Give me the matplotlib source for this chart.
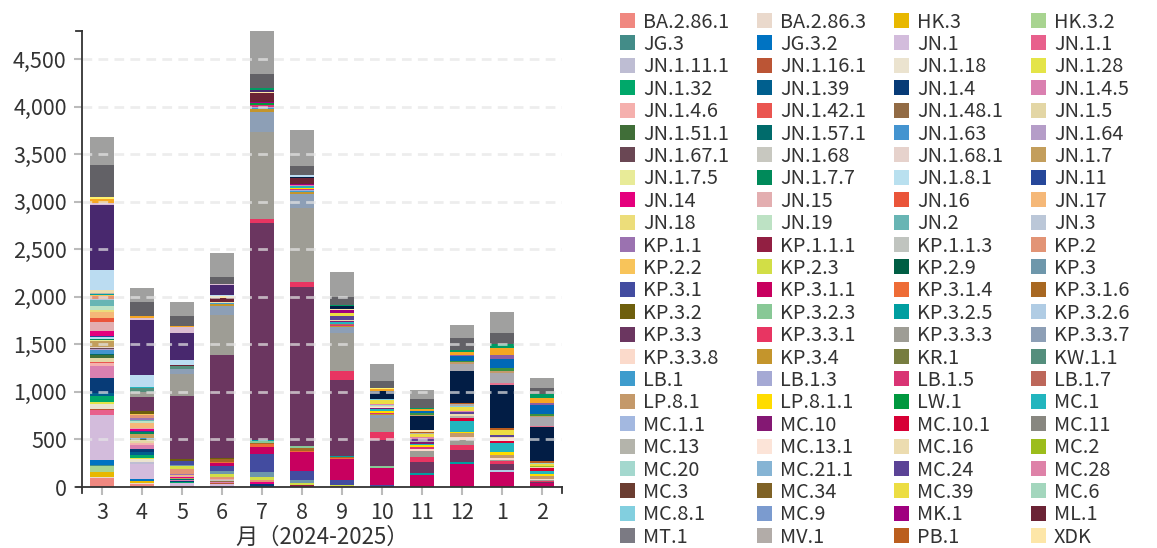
import matplotlib
matplotlib.use('Agg')
import matplotlib.pyplot as plt
from matplotlib.patches import Rectangle
from matplotlib.lines import Line2D
import numpy as np

plt.rcParams['font.family'] = ['Noto Sans CJK JP', 'DejaVu Sans']
plt.rcParams['lines.scale_dashes'] = False

# x axis: month of 2024-2025
months = ['3', '4', '5', '6', '7', '8', '9', '10', '11', '12', '1', '2']

# lineages in legend / stacking order (bottom -> top)
lineages = [
    'BA.2.86.1', 'BA.2.86.3', 'HK.3', 'HK.3.2',
    'JG.3', 'JG.3.2', 'JN.1', 'JN.1.1',
    'JN.1.11.1', 'JN.1.16.1', 'JN.1.18', 'JN.1.28',
    'JN.1.32', 'JN.1.39', 'JN.1.4', 'JN.1.4.5',
    'JN.1.4.6', 'JN.1.42.1', 'JN.1.48.1', 'JN.1.5',
    'JN.1.51.1', 'JN.1.57.1', 'JN.1.63', 'JN.1.64',
    'JN.1.67.1', 'JN.1.68', 'JN.1.68.1', 'JN.1.7',
    'JN.1.7.5', 'JN.1.7.7', 'JN.1.8.1', 'JN.11',
    'JN.14', 'JN.15', 'JN.16', 'JN.17',
    'JN.18', 'JN.19', 'JN.2', 'JN.3',
    'KP.1.1', 'KP.1.1.1', 'KP.1.1.3', 'KP.2',
    'KP.2.2', 'KP.2.3', 'KP.2.9', 'KP.3',
    'KP.3.1', 'KP.3.1.1', 'KP.3.1.4', 'KP.3.1.6',
    'KP.3.2', 'KP.3.2.3', 'KP.3.2.5', 'KP.3.2.6',
    'KP.3.3', 'KP.3.3.1', 'KP.3.3.3', 'KP.3.3.7',
    'KP.3.3.8', 'KP.3.4', 'KR.1', 'KW.1.1',
    'LB.1', 'LB.1.3', 'LB.1.5', 'LB.1.7',
    'LP.8.1', 'LP.8.1.1', 'LW.1', 'MC.1',
    'MC.1.1', 'MC.10', 'MC.10.1', 'MC.11',
    'MC.13', 'MC.13.1', 'MC.16', 'MC.2',
    'MC.20', 'MC.21.1', 'MC.24', 'MC.28',
    'MC.3', 'MC.34', 'MC.39', 'MC.6',
    'MC.8.1', 'MC.9', 'MK.1', 'ML.1',
    'MT.1', 'MV.1', 'PB.1', 'XDK',
]
lineage_colors = [
    '#f08880', '#ead9cc', '#e8b800', '#a8d490',
    '#438c88', '#0073c2', '#d3bcdc', '#e8608c',
    '#bebdd3', '#bb5535', '#ebe3cf', '#e4e448',
    '#00a86a', '#005f8e', '#073b77', '#da80b0',
    '#f5b0ad', '#ea5550', '#926b45', '#e3d6a5',
    '#406e38', '#006b6b', '#4494d0', '#b59dc8',
    '#6a4754', '#c8c8c0', '#e6d2cc', '#c39e5c',
    '#e8eb98', '#008a5a', '#b9e0ef', '#26479a',
    '#e5007d', '#e3aeb0', '#ea553a', '#f5b878',
    '#ecdd7a', '#bde2c4', '#68b5b4', '#bbc7d8',
    '#9b72b0', '#921f42', '#c0c4bf', '#e29476',
    '#f8c45a', '#d2de46', '#005e44', '#6e97ab',
    '#434ca0', '#c8005f', '#ee6c36', '#a86822',
    '#6e5f0d', '#88c896', '#009ea0', '#b0cce4',
    '#6b3660', '#e83562', '#9e9d95', '#8d9fb6',
    '#fbdacb', '#c4952c', '#777d40', '#548e7c',
    '#3e9ccd', '#a5a9d4', '#d93474', '#bd675a',
    '#c4996a', '#ffdc00', '#00983f', '#22b5be',
    '#a3b8e0', '#841873', '#d70035', '#888780',
    '#b4b4ab', '#fce4d8', '#ecdcb0', '#9cbd1c',
    '#a4d8ce', '#86b4d4', '#5b4396', '#de82a8',
    '#6b3d31', '#7f6226', '#ecdd43', '#a3d6bd',
    '#82cfdf', '#7b9bcf', '#a0007f', '#6b2335',
    '#7b7a83', '#b2aca8', '#bb5e1e', '#fde6a8',
]

# groups stacked above XDK that have no legend entry
unlisted = ['_navy', '_rose', '_gray', '_tan', '_green', '_blue', '_purple',
            '_lightblue', '_indigo', '_pink', '_orange', '_yellow', '_green2',
            '_darkgray', '_lightgray']
unlisted_colors = ['#021d45', '#e5738f', '#a9a8ae', '#c49a6c', '#3d9140', '#0068b7',
                   '#8e5ea2', '#bbdcf1', '#48286e', '#dbbdd2', '#f5a623', '#fff26e',
                   '#009b63', '#626166', '#a0a09f']

# counts per month (only non-zero groups)
mar_2024 = {
    'BA.2.86.1': 90, 'BA.2.86.3': 18, 'HK.3': 53, 'HK.3.2': 63, 'JG.3': 5, 'JG.3.2': 60,
    'JN.1': 463, 'JN.1.1': 53, 'JN.1.11.1': 5, 'JN.1.16.1': 5, 'JN.1.18': 56, 'JN.1.28': 21,
    'JN.1.32': 63, 'JN.1.39': 35, 'JN.1.4': 155, 'JN.1.4.5': 126, 'JN.1.4.6': 35, 'JN.1.42.1': 8,
    'JN.1.48.1': 5, 'JN.1.5': 42, 'JN.1.51.1': 28, 'JN.1.57.1': 14, 'JN.1.63': 35, 'JN.1.64': 10,
    'JN.1.67.1': 10, 'JN.1.68': 5, 'JN.1.68.1': 10, 'JN.1.7': 67, 'JN.1.7.5': 10, 'JN.1.7.7': 5,
    'JN.1.8.1': 18, 'JN.11': 18, 'JN.14': 49, 'JN.15': 98, 'JN.16': 42, 'JN.17': 63, 'JN.18': 21,
    'JN.19': 42, 'JN.2': 56, 'JN.3': 10, 'KP.1.1': 5, 'KP.1.1.3': 5, 'KP.2': 25, 'KP.2.2': 15,
    'KP.3.2.5': 8, 'MC.13': 8, 'MC.16': 30,
    '_lightblue': 218, '_indigo': 675, '_pink': 28, '_orange': 35, '_yellow': 28,
    '_darkgray': 330, '_lightgray': 295,
}
apr_2024 = {
    'BA.2.86.1': 35, 'BA.2.86.3': 5, 'HK.3': 18, 'HK.3.2': 5, 'JG.3.2': 18, 'JN.1': 165,
    'JN.1.11.1': 21, 'JN.1.18': 25, 'JN.1.28': 18, 'JN.1.32': 28, 'JN.1.39': 25, 'JN.1.4': 35,
    'JN.1.4.5': 42, 'JN.1.4.6': 18, 'JN.1.42.1': 5, 'JN.1.5': 28, 'JN.1.51.1': 10, 'JN.1.57.1': 8,
    'JN.1.63': 5, 'JN.1.64': 5, 'JN.1.7': 35, 'JN.1.7.7': 25, 'JN.11': 10, 'JN.14': 25,
    'JN.15': 10, 'JN.17': 46, 'JN.19': 21, 'JN.2': 10, 'KP.1.1': 25, 'KP.2': 35, 'KP.2.2': 10,
    'KP.3.2': 28, 'KP.3.3': 144, 'KP.3.3.3': 60, 'KW.1.1': 35, 'MC.1': 10,
    '_lightblue': 126, '_indigo': 580, '_pink': 18, '_orange': 25,
    '_darkgray': 148, '_lightgray': 148,
}
may_2024 = {
    'BA.2.86.1': 8, 'JN.1': 35, 'JN.1.32': 8, 'JN.1.4': 8, 'JN.1.4.5': 10, 'JN.1.5': 8,
    'JN.1.57.1': 8, 'JN.1.7': 8, 'JN.14': 10, 'JN.15': 8, 'JN.17': 10, 'JN.2': 8, 'KP.1.1': 10,
    'KP.2': 53, 'KP.2.3': 28, 'KP.3': 8, 'KP.3.1': 46, 'KP.3.2': 18, 'KP.3.3': 670,
    'KP.3.3.3': 230, 'KP.3.3.7': 53, 'KW.1.1': 25, 'ML.1': 10,
    '_lightblue': 53, '_indigo': 285, '_pink': 60, '_orange': 14,
    '_darkgray': 105, '_lightgray': 148,
}
jun_2024 = {
    'JN.1': 28, 'JN.1.16.1': 10, 'JN.1.4.5': 10, 'JN.1.48.1': 15, 'JN.1.68': 15, 'JN.15': 10,
    'KP.2': 18, 'KP.2.3': 35, 'KP.3': 28, 'KP.3.1': 56, 'KP.3.1.1': 28, 'KP.3.1.4': 10,
    'KP.3.1.6': 28, 'KP.3.2': 10, 'KP.3.2.5': 5, 'KP.3.3': 1085, 'KP.3.3.3': 421,
    'KP.3.3.7': 91, 'KP.3.4': 21, 'LB.1': 10, 'MC.16': 10, 'ML.1': 46, 'XDK': 14,
    '_lightblue': 18, '_indigo': 105, '_pink': 10, '_darkgray': 74, '_lightgray': 253,
}
jul_2024 = {
    'JN.1.4': 28, 'JN.14': 25, 'KP.2': 18, 'KP.2.3': 35, 'KP.3': 53, 'KP.3.1': 190,
    'KP.3.1.1': 74, 'KP.3.1.4': 25, 'KP.3.1.6': 18, 'KP.3.2.3': 14, 'KP.3.2.5': 18,
    'KP.3.3': 2274, 'KP.3.3.1': 42, 'KP.3.3.3': 924, 'KP.3.3.7': 207, 'KP.3.4': 25,
    'LB.1': 14, 'LB.1.3': 14, 'LB.1.5': 14, 'LW.1': 21, 'MK.1': 14, 'ML.1': 95, 'XDK': 14,
    '_indigo': 21, '_green2': 21, '_darkgray': 142, '_lightgray': 455,
}
aug_2024 = {
    'KP.1.1.1': 18, 'KP.2.3': 25, 'KP.3': 28, 'KP.3.1': 95, 'KP.3.1.1': 200, 'KP.3.1.4': 10,
    'KP.3.1.6': 32, 'KP.3.2.3': 28, 'KP.3.3': 1666, 'KP.3.3.1': 49, 'KP.3.3.3': 788,
    'KP.3.3.7': 141, 'KP.3.4': 21, 'LB.1': 14, 'LB.1.3': 10, 'LB.1.5': 10, 'LP.8.1.1': 14,
    'MC.1': 14, 'MC.28': 10, 'MK.1': 10, 'ML.1': 70,
    '_navy': 10, '_lightblue': 18, '_darkgray': 91, '_lightgray': 380,
}
sep_2024 = {
    'KP.2': 8, 'KP.2.3': 10, 'KP.3.1': 53, 'KP.3.1.1': 221, 'KP.3.1.4': 14, 'KP.3.1.6': 10,
    'KP.3.2.5': 10, 'KP.3.3': 801, 'KP.3.3.1': 95, 'KP.3.3.3': 393, 'KP.3.3.7': 63,
    'KP.3.4': 10, 'LB.1': 10, 'LB.1.5': 10, 'LB.1.7': 10, 'MC.1': 14, 'MC.1.1': 8,
    'MC.10': 8, 'MC.16': 10, 'MC.24': 35, 'MC.39': 35, 'MK.1': 28, 'ML.1': 10, 'XDK': 5,
    '_navy': 28, '_green2': 18, '_darkgray': 84, '_lightgray': 263,
}
oct_2024 = {
    'KP.3.1': 18, 'KP.3.1.1': 186, 'KP.3.2.3': 18, 'KP.3.3': 270, 'KP.3.3.1': 84,
    'KP.3.3.3': 151, 'KP.3.3.7': 28, 'KP.3.4': 14, 'LB.1.5': 12, 'LP.8.1.1': 15, 'MC.1': 21,
    'MC.10': 10, 'MC.13.1': 10, 'MC.16': 15, 'MC.20': 10, 'MC.28': 15, 'MC.39': 35,
    'MC.8.1': 12, '_navy': 85, '_orange': 20, '_yellow': 15, '_darkgray': 74, '_lightgray': 175,
}
nov_2024 = {
    'KP.3.1.1': 123, 'KP.3.2.5': 25, 'KP.3.3': 116, 'KP.3.3.1': 49, 'KP.3.3.3': 63,
    'KP.3.3.8': 28, 'LP.8.1.1': 18, 'LB.1.5': 15, 'MC.1': 20, 'MC.10': 15, 'MC.13': 14,
    'MC.24': 20, 'MC.28': 20, 'MC.39': 28, 'MV.1': 14, 'PB.1': 14, 'XDK': 14,
    '_navy': 151, '_tan': 14, '_green': 14, '_blue': 20, '_orange': 20, '_green2': 20,
    '_darkgray': 91, '_lightgray': 96,
}
dec_2024 = {
    'KP.3.1.1': 246, 'KP.3.2.5': 14, 'KP.3.3': 134, 'KP.3.3.1': 46, 'KP.3.3.3': 53,
    'KP.3.3.8': 35, 'LP.8.1': 35, 'LP.8.1.1': 18, 'MC.1': 112, 'MC.10.1': 35, 'MC.13': 15,
    'MC.16': 20, 'MC.24': 25, 'MC.28': 14, 'MC.39': 42, 'MC.8.1': 10, 'MV.1': 15, 'PB.1': 10,
    '_navy': 340, '_gray': 75, '_tan': 20, '_green': 15, '_blue': 50, '_purple': 10,
    '_orange': 35, '_green2': 21, '_darkgray': 119, '_lightgray': 140,
}
jan_2025 = {
    'KP.3.1.1': 155, 'KP.3.2.6': 21, 'KP.3.3': 63, 'KP.3.3.1': 32, 'KP.3.3.3': 15,
    'KP.3.3.8': 20, 'LP.8.1': 35, 'LP.8.1.1': 32, 'MC.1': 88, 'MC.10.1': 25, 'MC.13.1': 25,
    'MC.16': 15, 'MC.24': 20, 'MC.39': 49, 'PB.1': 21,
    '_navy': 457, '_rose': 21, '_gray': 105, '_tan': 21, '_green': 28, '_blue': 98,
    '_purple': 42, '_orange': 70, '_green2': 42, '_darkgray': 119, '_lightgray': 223,
}
feb_2025 = {
    'KP.3.1.1': 42, 'KP.3.3': 15, 'KP.3.3.1': 10, 'KP.3.3.3': 10, 'KP.3.3.8': 11,
    'LP.8.1': 28, 'LP.8.1.1': 25, 'MC.1': 28, 'MC.10.1': 28, 'MC.16': 14, 'MC.2': 14,
    'MC.39': 14, 'MC.6': 14, 'PB.1': 21,
    '_navy': 358, '_rose': 10, '_gray': 98, '_tan': 10, '_green': 21, '_blue': 88,
    '_purple': 21, '_orange': 60, '_green2': 35, '_darkgray': 69, '_lightgray': 105,
}
monthly = [mar_2024, apr_2024, may_2024, jun_2024, jul_2024, aug_2024,
           sep_2024, oct_2024, nov_2024, dec_2024, jan_2025, feb_2025]

W, H = 1157, 548
fig = plt.figure(figsize=(W / 100, H / 100), dpi=100)
ax = fig.add_axes([82 / W, 1 - 487 / H, 480 / W, 456 / H])

text_color = '#333333'
x = np.arange(len(months))
bottom = np.zeros(len(months))
for name, color in zip(lineages + unlisted, lineage_colors + unlisted_colors):
    vals = np.array([m.get(name, 0) for m in monthly], dtype=float)
    ax.bar(x, vals, bottom=bottom, width=0.6, color=color, linewidth=0, zorder=2)
    bottom += vals

ymax = bottom.max()
ax.set_xlim(-0.5, len(months) - 0.5)
ax.set_ylim(0, ymax)

yticks = np.arange(0, 5000, 500)
ax.set_yticks(yticks)
ax.set_yticklabels([f'{v:,}' for v in yticks])
ax.set_xticks(x)
ax.set_xticklabels(months)

# dashed grid drawn over the bars
for v in yticks[1:]:
    ax.axhline(v, color='#e6e6e6', alpha=0.7, linewidth=2, linestyle=(0, (7, 4.5)), zorder=3)

for side in ['top', 'right']:
    ax.spines[side].set_visible(False)
for side in ['left', 'bottom']:
    ax.spines[side].set_color(text_color)
    ax.spines[side].set_linewidth(1.3)
    ax.spines[side].set_zorder(4)

ax.tick_params(axis='both', length=6, width=1.5, color='#bbbbbb', labelcolor=text_color,
               labelsize=15.5, pad=5)
ax.tick_params(axis='x', pad=5)

# outer ticks at the ends of both axes
tx, ty = 6 / 480, 6 / 456
for xs, ys in [((-tx, 0), (1, 1)), ((-tx, 0), (0, 0)), ((0, 0), (0, -ty)), ((1, 1), (0, -ty))]:
    ax.add_line(Line2D(xs, ys, transform=ax.transAxes, color=text_color, linewidth=1.3,
                       clip_on=False, zorder=4))

fig.text(322 / W, 1 - 543.5 / H, '月（2024-2025）', ha='center', va='baseline',
         fontsize=16, color=text_color)

# legend: 4 columns, row-major
fs = 14.3
for k, (name, color) in enumerate(zip(lineages, lineage_colors)):
    r, c = divmod(k, 4)
    x0 = 620 + c * 137
    yc = 20.5 + r * 22.4
    fig.patches.append(Rectangle((x0 / W, 1 - (yc + 7.5) / H), 15 / W, 15 / H,
                                 transform=fig.transFigure, facecolor=color, linewidth=0))
    fig.text((x0 + 23) / W, 1 - (yc + 7.2) / H, name, ha='left', va='baseline',
             fontsize=fs, color=text_color)

fig.savefig('out.png', dpi=100)
